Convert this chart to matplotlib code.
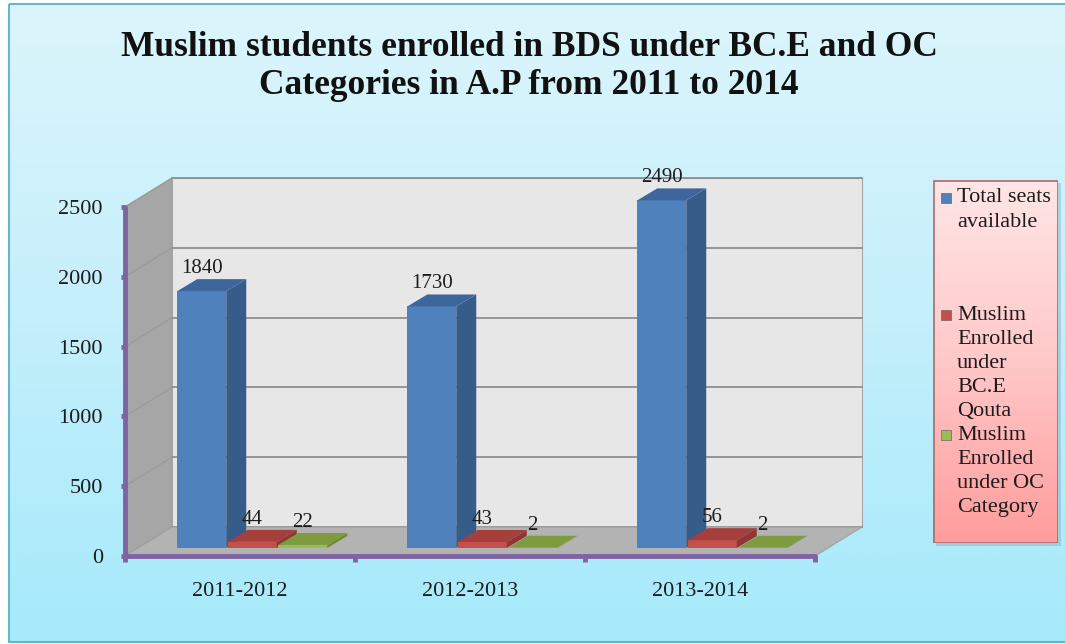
import numpy as np
import matplotlib
matplotlib.use('Agg')
import matplotlib.pyplot as plt
from matplotlib.patches import Polygon, Rectangle
from matplotlib.colors import LinearSegmentedColormap

# ---------------- data ----------------
categories = ['2011-2012', '2012-2013', '2013-2014']
total_seats = [1840, 1730, 2490]
bce_quota = [44, 43, 56]
oc_category = [22, 2, 2]
series_labels = ['Total seats\navailable',
                 'Muslim\nEnrolled\nunder\nBC.E\nQouta',
                 'Muslim\nEnrolled\nunder OC\nCategory']
y_ticks = [0, 500, 1000, 1500, 2000, 2500]
title_lines = ['Muslim students enrolled in BDS under BC.E and OC',
               'Categories in A.P from 2011 to 2014']

series = [total_seats, bce_quota, oc_category]
# front, side, top colours
face_cols = ['#4f81bd', '#c4504c', '#9bbb59']
side_cols = ['#365c8a', '#8e3734', '#6e8a36']
top_cols = ['#3d679c', '#a53f3b', '#7e9c3f']

FONT = 'Liberation Serif'
plt.rcParams['font.family'] = [FONT, 'DejaVu Serif']
TXT = '#1c1c1c'

W, H = 1065, 644
fig = plt.figure(figsize=(W / 100, H / 100), dpi=100)
fig.patch.set_facecolor('white')

# ---------------- background ----------------
bg = fig.add_axes([0, 0, 1, 1])
bg.set_xlim(0, W)
bg.set_ylim(H, 0)
bg.axis('off')
grad_cmap = LinearSegmentedColormap.from_list('bg', ['#dcf5fc', '#c4effb', '#a6eafb'])
bg.imshow(np.linspace(0, 1, 256).reshape(-1, 1), cmap=grad_cmap, aspect='auto',
          extent=[9, W + 5, 642, 4], zorder=0)
bg.add_patch(Rectangle((9, 4), W, 638, fill=False, ec='#62b9c9', lw=1.5, zorder=1))
# legend shadow
bg.add_patch(Rectangle((936, 183), 125, 363, fc='#7a9aa8', alpha=0.35, lw=0, zorder=2))

for k, (line, base) in enumerate(zip(title_lines, [56, 94])):
    fig.text(529 / W, 1 - base / H, line, ha='center', va='baseline', fontsize=25.5,
             fontweight='bold', color='#111111', family=FONT)

# ---------------- main plot ----------------
PX_X = 1 / 230.0          # category units per pixel
PX_Y = 2500 / 349.0       # value units per pixel
ax = fig.add_axes([100 / W, (H - 600) / H, 800 / W, 450 / H])
ax.set_xlim(-0.5 - 25 * PX_X, -0.5 + 775 * PX_X)
ax.set_ylim(-(600 - 556) * PX_Y, (556 - 150) * PX_Y)
ax.patch.set_alpha(0)

n = len(categories)
x_lo, x_hi = -0.5, n - 0.5
ymax = y_ticks[-1]
WX, WY = 47 * PX_X, 29 * PX_Y      # wall depth
FX, FY = 13 * PX_X, 8 * PX_Y       # bar front offset
BX, BY = 20 * PX_X, 12 * PX_Y      # bar depth
BW = 49 * PX_X
STEP = 50.5 * PX_X

# left wall
ax.add_patch(Polygon([(x_lo, 0), (x_lo, ymax), (x_lo + WX, ymax + WY), (x_lo + WX, WY)],
                     closed=True, fc='#a6a6a6', ec='#9a9a9a', lw=0.8, zorder=1))
# back wall
ax.add_patch(Rectangle((x_lo + WX, WY), x_hi - x_lo, ymax, fc='#e7e7e7', ec='#a8a8a8',
                       lw=0.8, zorder=1))
for v in y_ticks:
    ax.plot([x_lo + WX, x_hi + WX], [v + WY, v + WY], color='#8f8f8f', lw=1.3, zorder=2)
    ax.plot([x_lo, x_lo + WX], [v, v + WY], color='#999999', lw=0.8, zorder=2)
# floor
ax.add_patch(Polygon([(x_lo, 0), (x_hi, 0), (x_hi + WX, WY), (x_lo + WX, WY)],
                     closed=True, fc='#b3b3b3', ec='#a0a0a0', lw=0.8, zorder=3))

# bars (drawn left to right for correct overlap)
z = 4
for i in range(n):
    for s, vals in enumerate(series):
        v = vals[i]
        x0 = i - 1.5 * STEP + s * STEP + FX
        x1 = x0 + BW
        yb, yt = FY, v + FY
        ax.add_patch(Rectangle((x0, yb), BW, v, fc=face_cols[s], ec='none', zorder=z))
        ax.add_patch(Polygon([(x1, yb), (x1 + BX, yb + BY), (x1 + BX, yt + BY), (x1, yt)],
                             closed=True, fc=side_cols[s], ec='none', zorder=z))
        ax.add_patch(Polygon([(x0, yt), (x1, yt), (x1 + BX, yt + BY), (x0 + BX, yt + BY)],
                             closed=True, fc=top_cols[s], ec='none', zorder=z))
        z += 1
        ax.text(x0 + BW / 2, yt + BY + 1 * PX_Y, f'{v}', ha='center', va='bottom',
                fontsize=15, color=TXT, zorder=50, family=FONT)

# axes lines
purple = '#8064a2'
for sp in ['top', 'right']:
    ax.spines[sp].set_visible(False)
ax.spines['left'].set_position(('data', x_lo))
ax.spines['left'].set_bounds(0, ymax)
ax.spines['bottom'].set_position(('data', 0))
ax.spines['bottom'].set_bounds(x_lo, x_hi)
for sp in ['left', 'bottom']:
    ax.spines[sp].set_color(purple)
    ax.spines[sp].set_linewidth(3.5)
    ax.spines[sp].set_zorder(60)
    ax.spines[sp].set_capstyle('round')

ax.set_yticks(y_ticks)
ax.set_yticklabels([str(t) for t in y_ticks])
ax.tick_params(axis='y', direction='out', length=3, width=3.5, color=purple, pad=13,
               labelsize=16, labelcolor=TXT)
ax.set_xticks(range(n))
ax.set_xticklabels(categories)
ax.set_xticks(np.arange(x_lo, x_hi + 0.01, 1.0), minor=True)
ax.tick_params(axis='x', which='major', length=0, pad=19, labelsize=16, labelcolor=TXT)
ax.tick_params(axis='x', which='minor', direction='out', length=4, width=3.5, color=purple)
for lab in ax.get_xticklabels() + ax.get_yticklabels():
    lab.set_family(FONT)

# ---------------- legend ----------------
lax = fig.add_axes([933 / W, (H - 543) / H, 125 / W, 363 / H])
lax.set_xlim(0, 125)
lax.set_ylim(363, 0)
lax.axis('off')
lg_cmap = LinearSegmentedColormap.from_list('lg', ['#ffe6e6', '#ffc8c8', '#ff9c9c'])
lax.imshow(np.linspace(0, 1, 256).reshape(-1, 1), cmap=lg_cmap, aspect='auto',
           extent=[0, 125, 363, 0], zorder=0)
lax.add_patch(Rectangle((0.5, 0.5), 124, 362, fill=False, ec='#a86c6c', lw=1.2, zorder=2))

entry_tops = [18, 135, 255]   # first line centre of each entry (px in legend)
line_gap = 24.2
for s, lab in enumerate(series_labels):
    yc = entry_tops[s]
    lax.add_patch(Rectangle((8, yc - 5), 10, 10, fc=face_cols[s], ec='#666666', lw=0.5, zorder=3))
    for k, line in enumerate(lab.split('\n')):
        lax.text(24, yc + k * line_gap, line, ha='left', va='center',
                 fontsize=16, color=TXT, family=FONT, zorder=4)

fig.savefig('out.png', dpi=100)
